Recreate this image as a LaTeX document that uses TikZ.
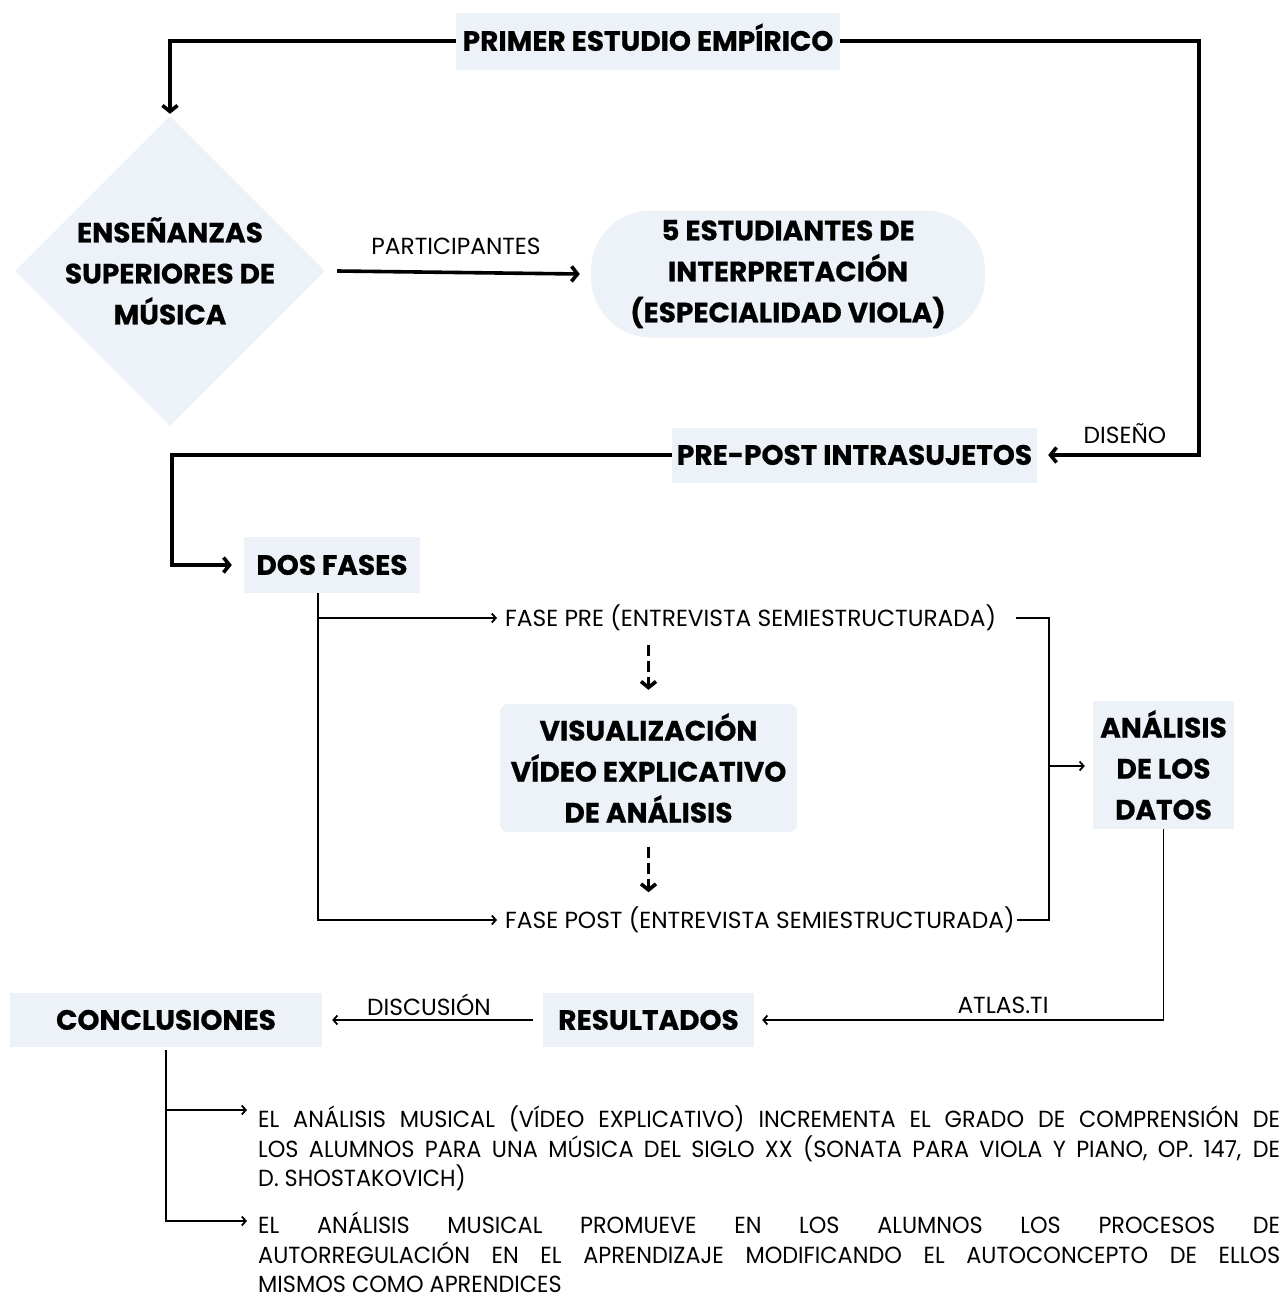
\documentclass[tikz,border=0pt]{standalone}
\usepackage{fontspec}
\setmainfont{Poppins}[BoldFeatures={FakeBold=0.6}]
\newfontfamily\regfamily{Poppins}
\newfontfamily\parfamily{Poppins}[FakeStretch=0.96]
\usetikzlibrary{arrows.meta,shapes.geometric}
\definecolor{boxfill}{RGB}{237,242,249}
\newcommand\ttlfnt{\fontsize{28}{41}\selectfont\bfseries}
\newcommand\regfnt{\fontsize{23.3}{30}\selectfont\regfamily}
\newcommand\parfnt{\fontsize{23.3}{29.5}\selectfont\parfamily\tolerance=10000\hyphenpenalty=10000}
\begin{document}
\begin{tikzpicture}[x=1pt,y=-1pt,
  box/.style={fill=boxfill, inner sep=0pt, align=center, font=\ttlfnt},
  onebox/.style={box, text height=19.6pt, text depth=0pt},
  lbl/.style={inner sep=0pt, font=\regfnt},
  para/.style={inner sep=0pt, font=\parfnt, text width=1022pt, align=justify, anchor=north west},
  thk/.style={line width=3.6pt, -{Straight Barb[length=6pt,width=15pt]}},
  thn/.style={line width=1.8pt, -{Straight Barb[length=4pt,width=9pt]}},
  thnl/.style={line width=1.8pt},
  dsh/.style={line width=3.6pt, dash pattern=on 11pt off 5pt, -{Straight Barb[length=6pt,width=15pt]}}
]
\useasboundingbox (0,0) rectangle (1284,1301);

% boxes
\node[onebox, minimum width=384pt, minimum height=57pt] (primer) at (648,41) {PRIMER ESTUDIO EMPÍRICO};
\node[diamond, fill=boxfill, minimum width=310pt, minimum height=310pt, inner sep=0pt,
  label={[font=\ttlfnt, align=center]center:ENSEÑANZAS\\SUPERIORES DE\\MÚSICA}] (ens) at (170,271) {};
\node[box, rounded corners=60pt, minimum width=394pt, minimum height=127pt] (est) at (788,274)
  {5 ESTUDIANTES DE\\INTERPRETACIÓN\\(ESPECIALIDAD VIOLA)};
\node[onebox, minimum width=365pt, minimum height=55pt] (prepost) at (854.5,455) {PRE-POST INTRASUJETOS};
\node[onebox, minimum width=176pt, minimum height=56pt] (dos) at (332,565) {DOS FASES};
\node[box, rounded corners=8pt, minimum width=297pt, minimum height=128pt] (vis) at (648.5,768)
  {VISUALIZACIÓN\\VÍDEO EXPLICATIVO\\DE ANÁLISIS};
\node[box, minimum width=141pt, minimum height=128pt] (ana) at (1163.5,765) {ANÁLISIS\\DE LOS\\DATOS};
\node[onebox, minimum width=211pt, minimum height=54pt] (res) at (648.5,1020) {RESULTADOS};
\node[onebox, minimum width=312pt, minimum height=54pt] (con) at (166,1020) {CONCLUSIONES};

% labels and texts
\node[lbl] (lpart) at (456,246) {PARTICIPANTES};
\node[lbl] (ldis) at (1125,434) {DISEÑO};
\node[lbl] (latlas) at (1003,1005) {ATLAS.TI};
\node[lbl] (ldisc) at (429,1005) {DISCUSIÓN};
\node[lbl, anchor=west] (fpre) at (505,618) {FASE PRE (ENTREVISTA SEMIESTRUCTURADA)};
\node[lbl, anchor=west] (fpost) at (505,920) {FASE POST (ENTREVISTA SEMIESTRUCTURADA)};
\node[para] (p1) at (258,1106) {EL ANÁLISIS MUSICAL (VÍDEO EXPLICATIVO) INCREMENTA EL GRADO DE COMPRENSIÓN DE\linebreak LOS ALUMNOS PARA UNA MÚSICA DEL SIGLO XX (SONATA PARA VIOLA Y PIANO, OP. 147, DE\linebreak D. SHOSTAKOVICH)};
\node[para] (p2) at (258,1212) {EL ANÁLISIS MUSICAL PROMUEVE EN LOS ALUMNOS LOS PROCESOS DE\linebreak AUTORREGULACIÓN EN EL APRENDIZAJE MODIFICANDO EL AUTOCONCEPTO DE ELLOS\linebreak MISMOS COMO APRENDICES};

% helper coordinates
\coordinate (rx) at (1199,0);
\coordinate (lx) at (172,0);
\coordinate (mx) at (1049,766);

% connectors
\draw[thk, shorten >=2pt] (primer.west) -| (ens.north);
\draw[thk, shorten >=11pt] (primer.east) -| (rx |- prepost.east) -- (prepost.east);
\draw[thk] ([xshift=12pt]ens.east) -- ([xshift=-11pt]est.west);
\draw[thk, shorten >=12pt] (prepost.west) -| (lx |- dos.west) -- (dos.west);
\draw[thn, shorten >=8pt] ([xshift=-14pt]dos.south) |- (fpre.west);
\draw[thn, shorten >=8pt] ([xshift=-14pt]dos.south) |- (fpost.west);
\draw[dsh] ([yshift=59pt]vis.north) -- ([yshift=14pt]vis.north);
\draw[dsh] ([yshift=-15pt]vis.south) -- ([yshift=-60pt]vis.south);
\draw[thnl] ([xshift=20pt]fpre.east) -| (mx);
\draw[thnl] ([xshift=2pt]fpost.east) -| (mx);
\draw[thn, shorten >=8pt] (mx) -- (ana.west |- mx);
\draw[thn, shorten >=8pt] (ana.south) |- (res.east);
\draw[thn, shorten >=10pt] ([xshift=-10pt]res.west) -- (con.east);
\draw[thn, shorten >=11pt] ([yshift=-3pt]con.south) |- ([yshift=-4pt]p1.north west);
\draw[thn, shorten >=11pt] ([yshift=-3pt]con.south) |- ([yshift=-9pt]p2.north west);
\end{tikzpicture}
\end{document}
